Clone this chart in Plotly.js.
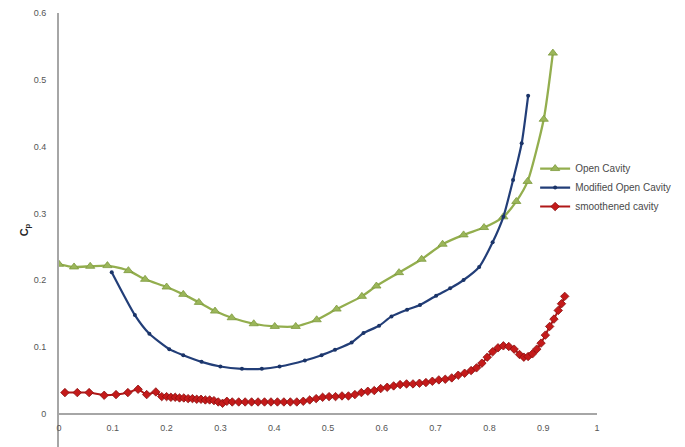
<!DOCTYPE html>
<html>
<head>
<meta charset="utf-8">
<script src="https://cdn.plot.ly/plotly-3.0.1.min.js"></script>
<style>html,body{margin:0;padding:0;background:#fff;}#chart{width:685px;height:447px;}</style>
</head>
<body>
<div id="chart"></div>
<script>
// Open Cavity
const openX = [0, 0.028, 0.058, 0.09, 0.129, 0.16, 0.2, 0.231, 0.26, 0.29, 0.321, 0.362, 0.401, 0.44, 0.479, 0.516, 0.563, 0.59, 0.632, 0.674, 0.713, 0.752, 0.79, 0.826, 0.85, 0.871, 0.901, 0.918];
const openY = [0.224, 0.220, 0.221, 0.222, 0.2145, 0.2015, 0.19, 0.179, 0.167, 0.154, 0.144, 0.135, 0.131, 0.131, 0.141, 0.157, 0.176, 0.1915, 0.2115, 0.2315, 0.254, 0.268, 0.279, 0.295, 0.318, 0.348, 0.441, 0.540];

// Modified Open Cavity
const modX = [0.098, 0.141, 0.168, 0.205, 0.231, 0.265, 0.30, 0.34, 0.377, 0.41, 0.457, 0.488, 0.513, 0.544, 0.566, 0.595, 0.618, 0.647, 0.671, 0.701, 0.727, 0.752, 0.781, 0.806, 0.826, 0.844, 0.860, 0.872];
const modY = [0.212, 0.148, 0.120, 0.097, 0.088, 0.078, 0.071, 0.0675, 0.0675, 0.071, 0.080, 0.088, 0.096, 0.107, 0.121, 0.132, 0.146, 0.156, 0.163, 0.177, 0.188, 0.2005, 0.220, 0.257, 0.295, 0.350, 0.405, 0.476];

// smoothened cavity
const smoothX = [0.011, 0.034, 0.056, 0.084, 0.106, 0.128, 0.147, 0.163, 0.18, 0.191, 0.2, 0.208, 0.216, 0.224, 0.232, 0.24, 0.248, 0.256, 0.264, 0.272, 0.28, 0.288, 0.296, 0.304, 0.312, 0.322, 0.334, 0.346, 0.358, 0.37, 0.382, 0.394, 0.406, 0.418, 0.43, 0.442, 0.454, 0.466, 0.478, 0.49, 0.502, 0.514, 0.526, 0.538, 0.55, 0.562, 0.574, 0.586, 0.598, 0.61, 0.622, 0.634, 0.646, 0.658, 0.67, 0.682, 0.694, 0.706, 0.718, 0.73, 0.742, 0.754, 0.766, 0.776, 0.786, 0.796, 0.806, 0.816, 0.826, 0.836, 0.846, 0.856, 0.864, 0.872, 0.88, 0.888, 0.896, 0.904, 0.912, 0.92, 0.928, 0.934, 0.94];
const smoothY = [0.032, 0.032, 0.032, 0.028, 0.029, 0.032, 0.037, 0.029, 0.033, 0.026, 0.026, 0.025, 0.025, 0.024, 0.024, 0.023, 0.023, 0.022, 0.022, 0.021, 0.021, 0.02, 0.018, 0.016, 0.019, 0.018, 0.018, 0.018, 0.018, 0.018, 0.018, 0.018, 0.018, 0.018, 0.018, 0.018, 0.019, 0.021, 0.023, 0.025, 0.026, 0.026, 0.027, 0.027, 0.029, 0.032, 0.034, 0.035, 0.038, 0.04, 0.042, 0.044, 0.045, 0.045, 0.046, 0.047, 0.049, 0.051, 0.052, 0.054, 0.058, 0.061, 0.065, 0.069, 0.076, 0.085, 0.093, 0.099, 0.102, 0.101, 0.097, 0.089, 0.085, 0.086, 0.09, 0.097, 0.106, 0.118, 0.131, 0.142, 0.155, 0.165, 0.176];

const seriesNames = ['Open Cavity', 'Modified Open Cavity', 'smoothened cavity'];
const xTicks = [0, 0.1, 0.2, 0.3, 0.4, 0.5, 0.6, 0.7, 0.8, 0.9, 1];
const xTickText = ['0', '0.1', '0.2', '0.3', '0.4', '0.5', '0.6', '0.7', '0.8', '0.9', '1'];
const yTicks = [0, 0.1, 0.2, 0.3, 0.4, 0.5, 0.6];
const yTickText = ['0', '0.1', '0.2', '0.3', '0.4', '0.5', '0.6'];

const traces = [
  {
    x: openX, y: openY, name: seriesNames[0], type: 'scatter', mode: 'lines+markers',
    line: {color: '#93AE4E', width: 2.3, shape: 'spline', smoothing: 0.6},
    marker: {symbol: 'triangle-up', size: 8, color: '#9BB65A', line: {color: '#7E9A3E', width: 0.8}}
  },
  {
    x: modX, y: modY, name: seriesNames[1], type: 'scatter', mode: 'lines+markers',
    line: {color: '#223E78', width: 2.2, shape: 'spline', smoothing: 0.6},
    marker: {symbol: 'circle', size: 4, color: '#1B3468'}
  },
  {
    x: smoothX, y: smoothY, name: seriesNames[2], type: 'scatter', mode: 'lines+markers',
    line: {color: '#B01818', width: 2, shape: 'spline', smoothing: 0.5},
    marker: {symbol: 'diamond', size: 6.5, color: '#C41A1A', line: {color: '#8A0F0F', width: 0.8}}
  }
];

const layout = {
  width: 685, height: 447,
  margin: {l: 59, r: 88, t: 13, b: 0, pad: 0},
  paper_bgcolor: '#fff', plot_bgcolor: '#fff',
  showlegend: true,
  legend: {
    x: 0.885, y: 0.675, xanchor: 'left', yanchor: 'top',
    font: {family: 'Liberation Sans, Arial, sans-serif', size: 10, color: '#4a4a4a'},
    bgcolor: 'rgba(0,0,0,0)', borderwidth: 0, tracegroupgap: 0, itemwidth: 30
  },
  xaxis: {
    range: [0, 1], anchor: 'free', position: 0.076,
    tickvals: xTicks, ticktext: xTickText,
    showgrid: false, zeroline: false, showline: true, linecolor: '#a6a6a6', linewidth: 2,
    ticks: '', tickfont: {family: 'Liberation Sans, Arial, sans-serif', size: 9, color: '#555'},
    ticklabelstandoff: 5
  },
  yaxis: {
    range: [-0.0494, 0.6],
    tickvals: yTicks, ticktext: yTickText,
    showgrid: false, zeroline: false, showline: true, linecolor: '#a6a6a6', linewidth: 2,
    ticks: '', tickfont: {family: 'Liberation Sans, Arial, sans-serif', size: 9, color: '#555'},
    ticklabelstandoff: 9,
    title: {text: '<b>C<sub>p</sub></b>', font: {family: 'Liberation Sans, Arial, sans-serif', size: 11, color: '#222'}, standoff: 3}
  }
};

Plotly.newPlot('chart', traces, layout, {displayModeBar: false, staticPlot: true});
</script>
</body>
</html>
